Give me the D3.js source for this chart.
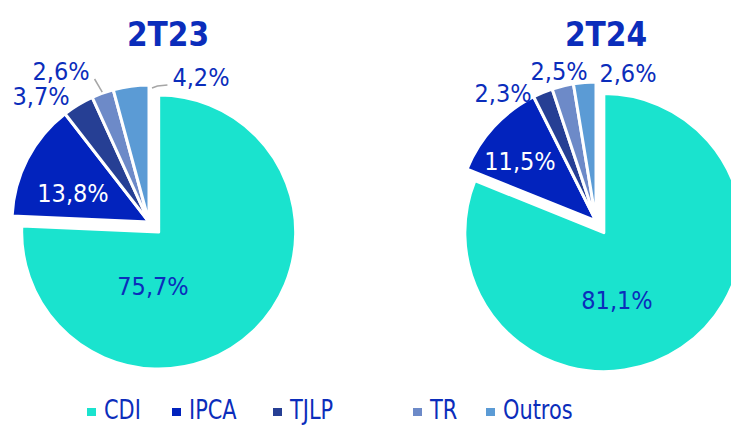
<!DOCTYPE html>
<html>
<head>
<meta charset="utf-8">
<script src="https://cdn.jsdelivr.net/npm/d3@7"></script>
<style>
  body { margin: 0; background: #fff; }
  svg { display: block; font-family: "DejaVu Sans Condensed", "DejaVu Sans", sans-serif; font-stretch: condensed; }
</style>
</head>
<body>
<script>
// data
var categories = ["CDI", "IPCA", "TJLP", "TR", "Outros"];
var periods = ["2T23", "2T24"];
var values2T23 = [75.7, 13.8, 3.7, 2.6, 4.2];
var values2T24 = [81.1, 11.5, 2.3, 2.5, 2.6];

var colors = ["#1ae3ce", "#0223bd", "#263f94", "#6d8ac8", "#5b9bd5"];
var textBlue = "#0b2dbb";

var width = 731, height = 426;

// layout per pie (label offsets are from the pie centre, baseline)
var charts = [
  { title: periods[0], values: values2T23, cx: 149, cy: 222, r: 137, titleX: 168,
    labelOffsets: [[4, 73], [-76, -20], [-108, -117], [-88, -142], [52, -136]],
    leaders: [{ i: 3, at: 0.5, side: "right" }, { i: 4, at: 1, side: "left" }] },
  { title: periods[1], values: values2T24, cx: 596, cy: 221, r: 139, titleX: 606,
    labelOffsets: [[21, 88], [-76, -51], [-93, -119], [-37, -141], [32, -139]],
    leaders: [] }
];

var explode = 14;
var fmt = function(v) { return v.toFixed(1).replace(".", ",") + "%"; };

var svg = d3.select("body").append("svg")
  .attr("width", width)
  .attr("height", height);

var pie = d3.pie().sort(null).value(function(d) { return d; });

charts.forEach(function(c) {
  var arcs = pie(c.values);
  var arc = d3.arc().innerRadius(0).outerRadius(c.r);
  var g = svg.append("g").attr("transform", "translate(" + c.cx + "," + c.cy + ")");

  g.selectAll("path")
    .data(arcs)
    .enter()
    .append("path")
    .attr("d", arc)
    .attr("transform", function(d, i) {
      if (i !== 0) return null;
      var a = (d.startAngle + d.endAngle) / 2;
      return "translate(" + (Math.sin(a) * explode) + "," + (-Math.cos(a) * explode) + ")";
    })
    .attr("fill", function(d, i) { return colors[i]; })
    .attr("stroke", "#fff")
    .attr("stroke-width", 3)
    .attr("stroke-linejoin", "round");

  var labels = g.selectAll("text.lbl")
    .data(arcs)
    .enter()
    .append("text")
    .attr("class", "lbl")
    .attr("x", function(d, i) { return c.labelOffsets[i][0]; })
    .attr("y", function(d, i) { return c.labelOffsets[i][1]; })
    .attr("text-anchor", "middle")
    .attr("font-size", "25px")
    .attr("fill", function(d, i) { return i === 1 ? "#fff" : textBlue; })
    .text(function(d) { return fmt(d.data); });

  // leader lines for the small slices
  c.leaders.forEach(function(l) {
    var d = arcs[l.i];
    var a = d.startAngle + (d.endAngle - d.startAngle) * l.at;
    var node = labels.nodes()[l.i];
    var w = node.getComputedTextLength();
    var off = c.labelOffsets[l.i];
    var ex = l.side === "right" ? off[0] + w / 2 + 5 : off[0] - w / 2 - 5;
    var ey = off[1] - 1;
    var sx = Math.sin(a) * (c.r + 1), sy = -Math.cos(a) * (c.r + 1);
    var pts = l.side === "left"
      ? [[sx + 3, sy + 4], [ex - 10, ey + 1], [ex, ey]]
      : [[sx, sy], [ex, ey]];
    g.append("path")
      .attr("d", d3.line()(pts))
      .attr("fill", "none")
      .attr("stroke", "#a6a6a6")
      .attr("stroke-width", 1.5);
  });

  svg.append("text")
    .attr("x", c.titleX)
    .attr("y", 46)
    .attr("text-anchor", "middle")
    .attr("font-size", "33px")
    .attr("font-weight", "bold")
    .attr("fill", textBlue)
    .text(c.title);
});

// legend
var legendX = [87, 172, 273, 413, 486];
var legend = svg.append("g");

var item = legend.selectAll("g")
  .data(categories)
  .enter()
  .append("g")
  .attr("transform", function(d, i) { return "translate(" + legendX[i] + ",0)"; });

item.append("rect")
  .attr("x", 0)
  .attr("y", 408)
  .attr("width", 9)
  .attr("height", 8)
  .attr("fill", function(d, i) { return colors[i]; });

item.append("text")
  .attr("transform", "translate(17,419) scale(0.86,1)")
  .attr("font-size", "27px")
  .attr("fill", textBlue)
  .text(function(d) { return d; });
</script>
</body>
</html>
